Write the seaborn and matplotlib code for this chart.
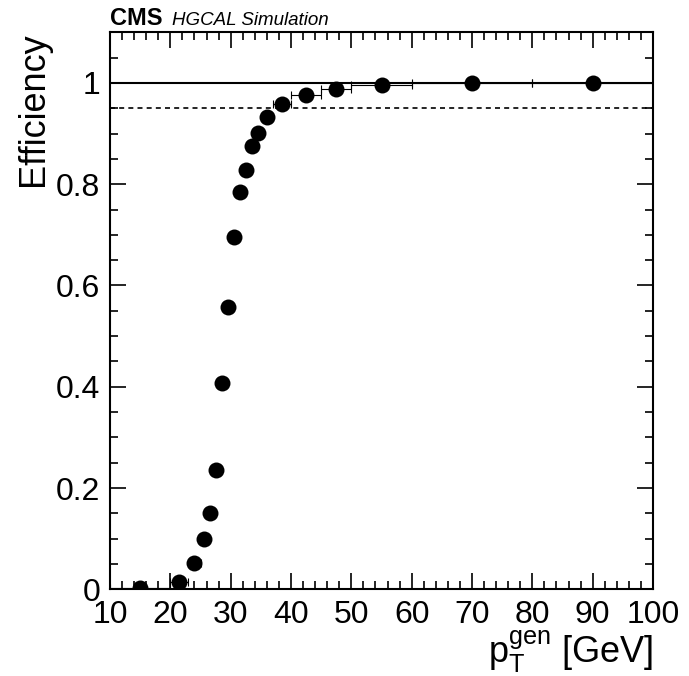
import matplotlib
matplotlib.use('Agg')
import matplotlib.pyplot as plt
import seaborn as sns
import numpy as np
from matplotlib.ticker import MultipleLocator

# bin centres and half-widths in pT (GeV), efficiency per bin
pt_centres = [15, 21.5, 24, 25.5, 26.5, 27.5, 28.5, 29.5, 30.5, 31.5, 32.5, 33.5,
              34.5, 36, 38.5, 42.5, 47.5, 55, 70, 90]
pt_halfwidth = [5, 1.5, 1, 0.5, 0.5, 0.5, 0.5, 0.5, 0.5, 0.5, 0.5, 0.5,
                0.5, 1, 1.5, 2.5, 2.5, 5, 10, 10]
efficiency = [0.002, 0.014, 0.051, 0.100, 0.151, 0.235, 0.407, 0.557, 0.695, 0.784,
              0.829, 0.876, 0.901, 0.932, 0.958, 0.977, 0.988, 0.995, 0.999, 1.000]

sns.set_style('ticks')
plt.rcParams['font.family'] = ['Liberation Sans', 'DejaVu Sans']
plt.rcParams['text.color'] = 'black'
plt.rcParams['axes.labelcolor'] = 'black'
plt.rcParams['xtick.color'] = 'black'
plt.rcParams['ytick.color'] = 'black'
plt.rcParams['mathtext.fontset'] = 'custom'
plt.rcParams['mathtext.rm'] = 'Liberation Sans'
plt.rcParams['mathtext.it'] = 'Liberation Sans:italic'

fig = plt.figure(figsize=(6.89, 6.76), dpi=100)
ax = fig.add_axes([110 / 689, 1 - 589.3 / 676, 543 / 689, (589.3 - 32.3) / 676])

ax.axhline(1.0, color='black', lw=1.5, zorder=1)
ax.axhline(0.95, color='black', lw=1.2, ls=(0, (3, 2.5)), zorder=1)

ax.errorbar(pt_centres, efficiency, xerr=pt_halfwidth, fmt='none', ecolor='black',
            elinewidth=0.8, capsize=3, capthick=0.8, zorder=2)
sns.scatterplot(x=pt_centres, y=efficiency, ax=ax, color='black', s=11.5 ** 2,
                edgecolor='black', linewidth=0, zorder=3)

ax.set_xlim(10, 100)
ax.set_ylim(0, 1.1)
ax.xaxis.set_major_locator(MultipleLocator(10))
ax.xaxis.set_minor_locator(MultipleLocator(2))
ax.yaxis.set_major_locator(MultipleLocator(0.2))
ax.yaxis.set_minor_locator(MultipleLocator(0.05))
ax.set_yticks([0, 0.2, 0.4, 0.6, 0.8, 1.0])
ax.set_yticklabels(['0', '0.2', '0.4', '0.6', '0.8', '1'])

ax.tick_params(which='both', direction='in', top=True, right=True, width=1.2,
               colors='black', labelcolor='black')
ax.tick_params(which='major', length=11.5)
ax.tick_params(which='minor', length=5.8)
ax.tick_params(axis='y', which='major', labelsize=23, pad=7)
ax.tick_params(axis='x', which='major', labelsize=23, pad=8)
for s in ax.spines.values():
    s.set_linewidth(1.5)
    s.set_color('black')

ax.set_ylabel('Efficiency', fontsize=26, loc='top', color='black')
ax.yaxis.set_label_coords(-0.108, 1.0)
ax.set_xlabel(r'$\mathrm{p}_{\mathrm{T}}^{\mathrm{gen}}$ [GeV]', fontsize=26, loc='right',
              color='black')
ax.xaxis.set_label_coords(1.0, -0.07)

fig.text(110 / 689, 1 - 25 / 676, 'CMS', fontsize=17, fontweight='bold', ha='left',
         va='baseline', color='black')
fig.text(172 / 689, 1 - 25 / 676, 'HGCAL Simulation', fontsize=13.5, style='italic',
         ha='left', va='baseline', color='black')

fig.savefig('out.png', dpi=100)
